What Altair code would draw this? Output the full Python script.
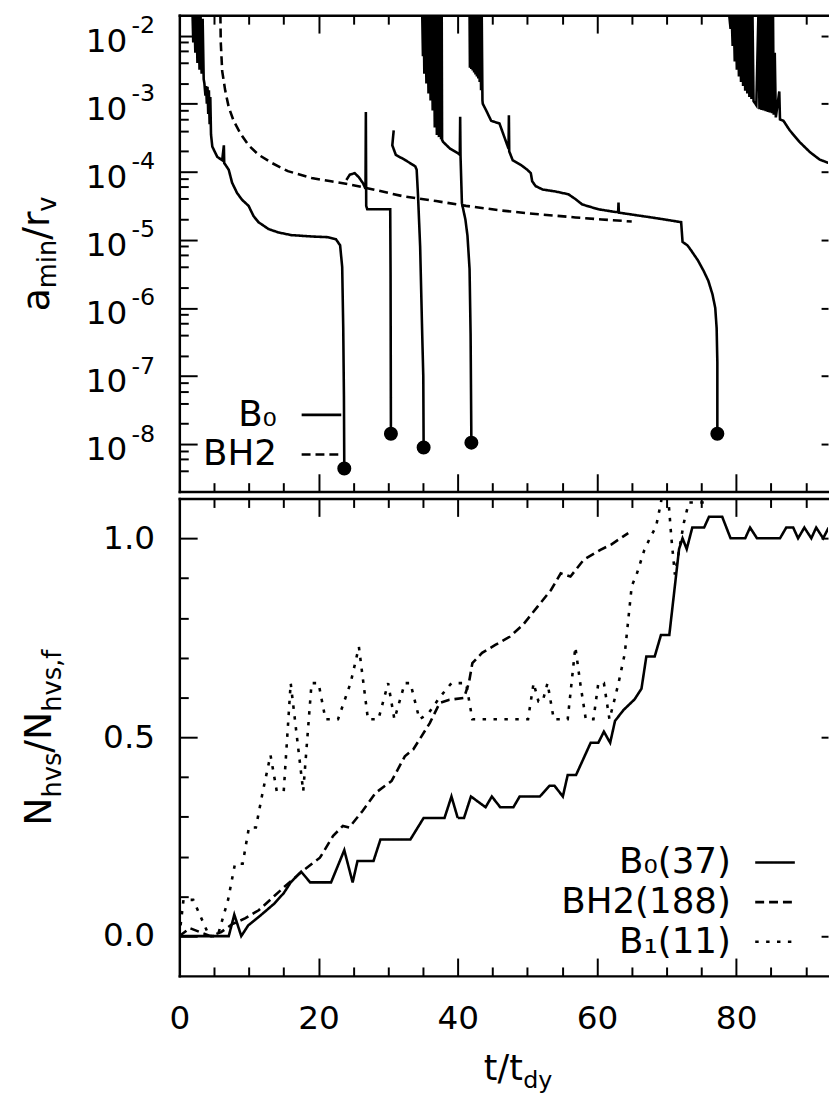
import altair as alt
import pandas as pd

FONT = "DejaVu Sans"
TOP = -1.69  # spikes run off the top of the panel (clipped at the frame)

# ================= top panel: a_min / r_v (values stored as log10) =================
b0_1_t = [1.9, 2.0, 2.15, 2.3, 2.45, 2.6, 2.75, 2.9, 3.05, 3.2, 3.35, 3.5, 3.6, 3.75, 3.85, 3.95, 4.05, 4.15, 4.25, 4.35,
          4.45, 4.55, 4.74, 5.45, 6.16, 6.4, 6.45, 7.1, 7.58, 8.29, 9.0, 9.95, 10.66, 11.37, 12.8, 14.2, 16.1, 19.0, 21.3, 22.5,
          23.1, 23.4, 23.55, 23.65, 23.7]
b0_1_log = [TOP, -2.1, TOP, -2.25, TOP, -2.4, TOP, -2.5, TOP, -2.56, -1.75, -2.64, -2.7, -2.88, -2.74, -3.0, -2.75, -3.15, -2.8, -3.3,
            -2.9, -3.45, -3.63, -3.78, -3.83, -3.61, -3.87, -3.97, -4.16, -4.31, -4.41, -4.50, -4.65, -4.74, -4.84, -4.89, -4.93, -4.95, -4.96, -4.99,
            -5.08, -5.4, -6.3, -7.3, -8.36]

b0_2_t = [24.0, 24.5, 25.2, 25.8, 26.4, 26.75, 26.8, 26.85, 27.0, 30.3, 30.35, 30.4]
b0_2_log = [-4.12, -4.04, -4.02, -4.08, -4.17, -4.25, -3.12, -4.5, -4.55, -4.55, -5.5, -7.85]

b0_3_t = [30.8, 30.6, 31.1, 32.5, 33.9, 34.1, 34.3, 34.6, 34.9, 35.05, 35.1]
b0_3_log = [-3.39, -3.61, -3.75, -3.83, -3.92, -3.97, -4.36, -5.1, -6.4, -7.0, -8.05]

b0_4_t = [34.9, 35.0, 35.1, 35.2, 35.35, 35.5, 35.65, 35.8, 35.95, 36.1, 36.25, 36.4, 36.55, 36.7, 36.85, 37.0, 37.15, 37.3, 37.45, 37.6,
          37.7, 37.75, 37.9, 38.9, 40.06, 40.3, 40.35, 40.4, 40.6, 41.1, 41.4, 41.7, 41.85, 41.96]
b0_4_log = [TOP, -2.3, TOP, -2.56, TOP, -2.7, TOP, -2.85, TOP, -2.95, TOP, -3.1, TOP, -3.35, TOP, -3.46, TOP, -3.49, TOP, -3.52,
            TOP, -3.53, -3.56, -3.66, -3.73, -3.75, -3.19, -3.76, -4.46, -4.70, -4.94, -5.43, -6.4, -7.98]

b0_5_t = [41.7, 41.75, 41.85, 41.95, 42.05, 42.15, 42.25, 42.35, 42.45, 42.55, 42.65, 42.75, 42.85, 42.95, 43.05, 43.15, 43.25, 43.35, 43.45, 43.55,
          43.6, 44.1, 44.8, 46.0, 46.7, 47.3, 47.35, 47.4, 47.9, 49.1, 50.0, 50.5, 50.7, 51.2, 52.2, 54.1, 55.9, 56.9, 57.9, 60.2,
          62.6, 63.05, 63.1, 63.15, 64.5, 67.8, 69.7, 72.1, 72.3, 73.0, 73.5, 74.5, 75.3, 76.0, 76.6, 77.0, 77.2, 77.3, 77.3]
b0_5_log = [TOP, -2.47, TOP, -2.49, TOP, -2.51, TOP, -2.54, TOP, -2.57, TOP, -2.6, TOP, -2.63, TOP, -2.68, TOP, -2.8, TOP, -2.95,
            -3.0, -3.10, -3.25, -3.29, -3.49, -3.66, -3.17, -3.70, -3.83, -3.90, -3.97, -4.02, -4.14, -4.21, -4.26, -4.29, -4.33, -4.40, -4.48, -4.55,
            -4.59, -4.59, -4.45, -4.6, -4.62, -4.67, -4.70, -4.74, -5.03, -5.08, -5.15, -5.3, -5.45, -5.6, -5.8, -6.0, -6.3, -6.8, -7.85]

b0_6_t = [79.0, 79.2, 79.35, 79.5, 79.65, 79.8, 79.95, 80.1, 80.25, 80.4, 80.55, 80.7, 80.85, 81.0, 81.15, 81.3, 81.45, 81.6, 81.75, 81.9,
          82.05, 82.2, 82.35, 82.5, 82.9, 83.2, 83.35, 83.5, 83.65, 83.8, 83.95, 84.1, 84.25, 84.4, 84.55, 84.7, 84.85, 85.0, 85.15, 85.3,
          85.4, 85.55, 85.7, 86.2, 86.3, 86.8, 87.7, 89.1, 90.6, 92.0, 93.3]
b0_6_log = [TOP, -1.9, TOP, -2.15, TOP, -2.38, TOP, -2.5, TOP, -2.6, TOP, -2.68, TOP, -2.74, TOP, -2.81, TOP, -2.85, TOP, -2.9,
            TOP, -2.93, TOP, -2.96, -3.02, TOP, -3.08, TOP, -3.09, TOP, -3.1, TOP, -3.11, TOP, -3.12, TOP, -3.13, TOP, -3.14, TOP,
            -3.16, -2.25, -3.2, -2.82, -3.23, -3.25, -3.39, -3.56, -3.71, -3.82, -3.87]

bh2_t = [5.9, 5.95, 6.16, 6.6, 7.1, 7.8, 8.8, 9.95, 11.4, 13.3, 15.6, 19.0, 21.8, 24.2, 27.0, 32.2, 36.9, 41.2, 46.4, 51.2, 56.9, 60.7, 65.0]
bh2_log = [TOP, -2.09, -2.52, -2.81, -3.05, -3.25, -3.44, -3.61, -3.75, -3.87, -3.99, -4.09, -4.14, -4.18, -4.24, -4.36, -4.43, -4.5, -4.57,
           -4.62, -4.67, -4.70, -4.73]

merger_t = [23.7, 30.4, 35.1, 41.96, 77.3]
merger_log = [-8.36, -7.85, -8.05, -7.98, -7.85]

# ================= bottom panel: N_hvs / N_hvs,f =================
b0n_t = [0, 7.1, 7.9, 8.9, 9.9, 11.8, 13.6, 15.0, 16.0, 17.5, 18.8, 21.8, 23.7, 24.9, 25.6, 27.9, 28.9, 32.4, 33.2, 35.1,
         38.1, 39.1, 40.0, 40.9, 41.9, 44.0, 44.9, 46.1, 48.0, 48.9, 51.8, 53.2, 53.9, 55.1, 55.8, 57.0, 58.4, 59.1, 60.2, 61.0,
         61.9, 62.6, 63.8, 65.4, 66.4, 67.1, 68.3, 69.2, 70.4, 71.1, 71.8, 72.3, 72.9, 73.7, 75.4, 76.1, 78.0, 79.2, 81.3, 82.0,
         83.0, 86.3, 87.2, 88.2, 88.9, 89.8, 90.8, 91.5, 92.5, 93.3]
b0n_v = [0, 0, 0.054, 0, 0.027, 0.054, 0.081, 0.108, 0.135, 0.162, 0.135, 0.135, 0.216, 0.135, 0.189, 0.189, 0.243, 0.243, 0.243, 0.297,
         0.297, 0.351, 0.297, 0.297, 0.351, 0.324, 0.351, 0.324, 0.324, 0.351, 0.351, 0.378, 0.378, 0.351, 0.405, 0.405, 0.459, 0.486, 0.486, 0.514,
         0.486, 0.541, 0.568, 0.595, 0.622, 0.703, 0.703, 0.757, 0.757, 0.865, 0.973, 1.0, 0.973, 1.027, 1.027, 1.054, 1.054, 1.0, 1.0, 1.027,
         1.0, 1.0, 1.027, 1.027, 1.0, 1.027, 1.0, 1.027, 1.0, 1.027]

bh2n_t = [0, 1.5, 3.0, 4.5, 6.0, 7.6, 9.5, 11.4, 13.6, 15.1, 17.8, 20.2, 22.1, 23.5, 24.4, 26.3, 28.2, 30.5, 32.4, 33.6,
          36.0, 37.4, 38.8, 40.9, 41.6, 42.1, 43.5, 45.4, 47.5, 49.4, 51.5, 53.4, 54.8, 56.2, 58.1, 60.5, 62.1, 64.5]
bh2n_v = [0, 0.02, 0.01, 0.0, 0.01, 0.03, 0.045, 0.065, 0.1, 0.124, 0.165, 0.197, 0.252, 0.277, 0.273, 0.314, 0.36, 0.39, 0.452, 0.469,
          0.536, 0.586, 0.594, 0.599, 0.636, 0.686, 0.712, 0.732, 0.753, 0.783, 0.829, 0.87, 0.912, 0.904, 0.946, 0.971, 0.985, 1.013]

b1n_t = [0, 0.6, 2.0, 4.3, 5.5, 7.0, 8.0, 9.1, 10.0, 11.0, 12.0, 13.1, 14.0, 15.0, 16.0, 17.8, 19.0, 20.0, 21.0, 22.8,
         24.6, 25.8, 27.1, 28.6, 30.0, 30.9, 32.4, 33.2, 34.5, 35.8, 37.4, 39.1, 41.2, 42.1, 50.1, 50.9, 51.6, 52.2, 52.9, 53.8,
         55.8, 56.9, 57.6, 58.4, 59.5, 60.2, 61.0, 61.8, 62.6, 63.1, 64.0, 65.0, 65.7, 66.8, 67.6, 68.5, 69.2, 69.9, 70.7, 71.2,
         72.5, 73.2, 75.5, 76.0, 93.3]
b1n_v = [0, 0.091, 0.091, 0.0, 0.0, 0.091, 0.182, 0.182, 0.273, 0.273, 0.364, 0.455, 0.364, 0.364, 0.636, 0.364, 0.636, 0.636, 0.545, 0.545,
         0.636, 0.727, 0.545, 0.545, 0.636, 0.545, 0.636, 0.636, 0.545, 0.56, 0.60, 0.636, 0.636, 0.545, 0.545, 0.636, 0.59, 0.59, 0.636, 0.545,
         0.545, 0.727, 0.636, 0.545, 0.545, 0.636, 0.636, 0.545, 0.60, 0.636, 0.71, 0.88, 0.909, 0.97, 1.0, 1.03, 1.09, 1.18, 1.0, 0.909,
         1.04, 1.09, 1.09, 1.18, 1.18]

# series keys (line styles) and their display labels (legend text)
TOP_KEYS = ["b0", "bh2"]
TOP_LABELS = ["B\u2080", "BH2"]
BOT_KEYS = ["b0", "bh2", "b1"]
BOT_LABELS = ["B\u2080(37)", "BH2(188)", "B\u2081(11)"]

# tick values
X_MAJOR = [20, 40, 60, 80]
X_MINOR = [5, 10, 15, 25, 30, 35, 45, 50, 55, 65, 70, 75, 85, 90]
X_LABELS = [0, 20, 40, 60, 80]
LOG_MAJOR = [1e-2, 1e-3, 1e-4, 1e-5, 1e-6, 1e-7, 1e-8]
LOG_MINOR = [4e-9, 6e-9, 8e-9, 2e-8, 4e-8, 6e-8, 8e-8, 2e-7, 4e-7, 6e-7, 8e-7, 2e-6, 4e-6, 6e-6, 8e-6,
             2e-5, 4e-5, 6e-5, 8e-5, 2e-4, 4e-4, 6e-4, 8e-4, 2e-3, 4e-3, 6e-3, 8e-3]
N_MAJOR = [0.0, 0.5, 1.0]
N_MINOR = [0.1, 0.2, 0.3, 0.4, 0.6, 0.7, 0.8, 0.9]

W = 655
H_TOP = 481
H_BOT = 482
LW = 2.6
LEG_FS = 36

# ----------------- data tables -----------------
rows = []
for sid, (ts, ls, k) in enumerate([(b0_1_t, b0_1_log, 0), (b0_2_t, b0_2_log, 0), (b0_3_t, b0_3_log, 0),
                                   (b0_4_t, b0_4_log, 0), (b0_5_t, b0_5_log, 0), (b0_6_t, b0_6_log, 0),
                                   (bh2_t, bh2_log, 1)]):
    for i, (t, l) in enumerate(zip(ts, ls)):
        rows.append({"t": t, "a": 10 ** l, "series": TOP_KEYS[k], "lbl": TOP_LABELS[k], "seg": sid, "ord": i})
top_df = pd.DataFrame(rows)
dots_df = pd.DataFrame({"t": merger_t, "a": [10 ** l for l in merger_log]})

rows = []
for k, (ts, vs) in enumerate([(b0n_t, b0n_v), (bh2n_t, bh2n_v), (b1n_t, b1n_v)]):
    for i, (t, v) in enumerate(zip(ts, vs)):
        rows.append({"t": t, "n": v, "series": BOT_KEYS[k], "lbl": BOT_LABELS[k], "ord": i})
bot_df = pd.DataFrame(rows)

ghost_top = pd.DataFrame({"t": [50.0], "a": [1e-5]})
ghost_bot = pd.DataFrame({"t": [50.0], "n": [0.5]})

xs = alt.Scale(domain=[0, 93.2], nice=False, zero=False)
ys_top = alt.Scale(type="log", domain=[2e-9, 2e-2], nice=False)
ys_bot = alt.Scale(domain=[-0.1, 1.1], nice=False, zero=False)


def axis(orient, offset=0, size=0, values=None, domain=False, labels=False, title=None, **kw):
    args = dict(orient=orient, offset=offset, grid=False, domain=domain, labels=labels,
                ticks=size > 0, tickSize=size, title=title)
    if values is not None:
        args["values"] = values
    args.update(kw)
    return alt.Axis(**args)


def frag(text, x, y, size, angle=270):
    return dict(title=text, titleX=x, titleY=y, titleAngle=angle, titleAlign="left",
                titleBaseline="alphabetic", titleFontSize=size, titleFont=FONT,
                titleFontWeight="normal", titleColor="black", titlePadding=0)


def ghost(df, yfield, yscale, xaxis, yaxis):
    return alt.Chart(df).mark_point(opacity=0).encode(
        x=alt.X("t:Q", scale=xs, axis=xaxis),
        y=alt.Y(f"{yfield}:Q", scale=yscale, axis=yaxis),
    )


def sym_legend(x, y):
    # line samples only (tiny invisible labels keep the row height equal to the text legend)
    return alt.Legend(orient="none", legendX=x, legendY=y, direction="vertical", title=None,
                      symbolType="stroke", symbolSize=1600, symbolStrokeWidth=LW, symbolStrokeColor="black",
                      labelExpr="'.'", labelOpacity=0, labelFont=FONT, labelFontSize=LEG_FS,
                      labelBaseline="middle", rowPadding=0, padding=0)


def lab_legend(x, y):
    # text only, right-aligned, to the left of the line samples
    return alt.Legend(orient="none", legendX=x, legendY=y, direction="vertical", title=None,
                      symbolType="stroke", symbolSize=1600, symbolOpacity=0, symbolStrokeWidth=LW,
                      labelFont=FONT, labelFontSize=LEG_FS, labelColor="black", labelAlign="right",
                      labelBaseline="middle", labelOffset=0, labelLimit=400, rowPadding=0, padding=0)


# ----------------- top panel -----------------
top_lines = alt.Chart(top_df).mark_line(clip=True, strokeWidth=LW).encode(
    x=alt.X("t:Q", scale=xs, axis=axis("bottom", domain=True)),
    y=alt.Y("a:Q", scale=ys_top, axis=axis("left", domain=True, labels=True, values=LOG_MAJOR,
                                            labelExpr="'10'", labelPadding=53, labelOffset=6,
                                            **frag("a", -132, 298.5, 38))),
    strokeDash=alt.StrokeDash("series:N", scale=alt.Scale(domain=TOP_KEYS, range=[[1, 0], [9, 5]]),
                              legend=sym_legend(122, 382)),
    color=alt.Color("lbl:N", scale=alt.Scale(domain=TOP_LABELS, range=["black", "black"]),
                    legend=lab_legend(55.5, 382)),
    detail="seg:N",
    order="ord:Q",
)
top_dots = alt.Chart(dots_df).mark_circle(size=200, color="black", opacity=1, clip=True).encode(
    x=alt.X("t:Q", scale=xs, axis=axis("bottom", offset=-18, size=18, values=X_MAJOR)),
    y=alt.Y("a:Q", scale=ys_top, axis=axis("left", labels=True, values=LOG_MAJOR,
                                            labelExpr="'-' + round(-log(datum.value)/LN10)",
                                            labelFontSize=24, labelPadding=25, labelOffset=-10,
                                            **frag("min", -125, 275.2, 26))),
)
top = alt.layer(
    top_lines,
    top_dots,
    ghost(ghost_top, "a", ys_top, axis("bottom", offset=-9, size=9, values=X_MINOR),
          axis("left", offset=-18, size=18, values=LOG_MAJOR, **frag("/r", -150, 226.2, 38))),
    ghost(ghost_top, "a", ys_top, axis("top", domain=True),
          axis("left", offset=-9, size=9, values=LOG_MINOR, **frag("v", -134, 197.8, 26))),
    ghost(ghost_top, "a", ys_top, axis("top", offset=-18, size=18, values=X_MAJOR),
          axis("right", offset=-7, size=7, values=LOG_MAJOR)),
    ghost(ghost_top, "a", ys_top, axis("top", offset=-9, size=9, values=X_MINOR), None),
).resolve_axis(x="independent", y="independent").properties(width=W, height=H_TOP)

# ----------------- bottom panel -----------------
bot_lines = alt.Chart(bot_df).mark_line(clip=True).encode(
    x=alt.X("t:Q", scale=xs, axis=axis("bottom", domain=True, labels=True, values=X_LABELS, format="d",
                                        labelPadding=27, **frag("t/t", 307, 105, 35, angle=0))),
    y=alt.Y("n:Q", scale=ys_bot, axis=axis("left", domain=True, labels=True, values=N_MAJOR, format=".1f",
                                            labelPadding=25, **frag("N", -130, 329.9, 38))),
    strokeDash=alt.StrokeDash("series:N", scale=alt.Scale(domain=BOT_KEYS, range=[[1, 0], [9, 5], [3.5, 7.5]]),
                              legend=sym_legend(580, 346)),
    color=alt.Color("lbl:N", scale=alt.Scale(domain=BOT_LABELS, range=["black", "black", "black"]),
                    legend=lab_legend(514, 346)),
    strokeWidth=alt.StrokeWidth("series:N", scale=alt.Scale(domain=BOT_KEYS, range=[LW, LW, 3.5]),
                                legend=None),
    order="ord:Q",
)
bottom = alt.layer(
    bot_lines,
    ghost(ghost_bot, "n", ys_bot, axis("bottom", offset=-18, size=18, values=X_MAJOR,
                                       **frag("dy", 346.7, 131, 24, angle=0)),
          axis("left", offset=-18, size=18, values=N_MAJOR, **frag("hvs", -138, 301.5, 26))),
    ghost(ghost_bot, "n", ys_bot, axis("bottom", offset=-9, size=9, values=X_MINOR),
          axis("left", offset=-9, size=9, values=N_MINOR, **frag("/N", -139, 256.1, 38))),
    ghost(ghost_bot, "n", ys_bot, axis("top", domain=True),
          axis("right", offset=-7, size=7, values=N_MAJOR, **frag("hvs,f", -768, 214.9, 26))),
    ghost(ghost_bot, "n", ys_bot, axis("top", offset=-18, size=18, values=X_MAJOR), None),
    ghost(ghost_bot, "n", ys_bot, axis("top", offset=-9, size=9, values=X_MINOR), None),
).resolve_axis(x="independent", y="independent").properties(width=W, height=H_BOT)

chart = alt.vconcat(top, bottom, spacing=5).resolve_scale(
    strokeDash="independent", strokeWidth="independent", color="independent"
).resolve_legend(strokeDash="independent", color="independent").properties(
    padding={"left": 10, "top": 0, "right": 0, "bottom": 0}, background="white"
).configure_view(stroke=None).configure_axis(
    labelFont=FONT, labelFontSize=33, labelColor="black", titleFont=FONT, titleColor="black",
    titleFontWeight="normal", domainColor="black", domainWidth=2.5, domainCap="square",
    tickColor="black", tickWidth=2, labelFlush=False, labelOverlap=False,
)

chart.save("out.html", embed_options={"renderer": "svg", "actions": False})
